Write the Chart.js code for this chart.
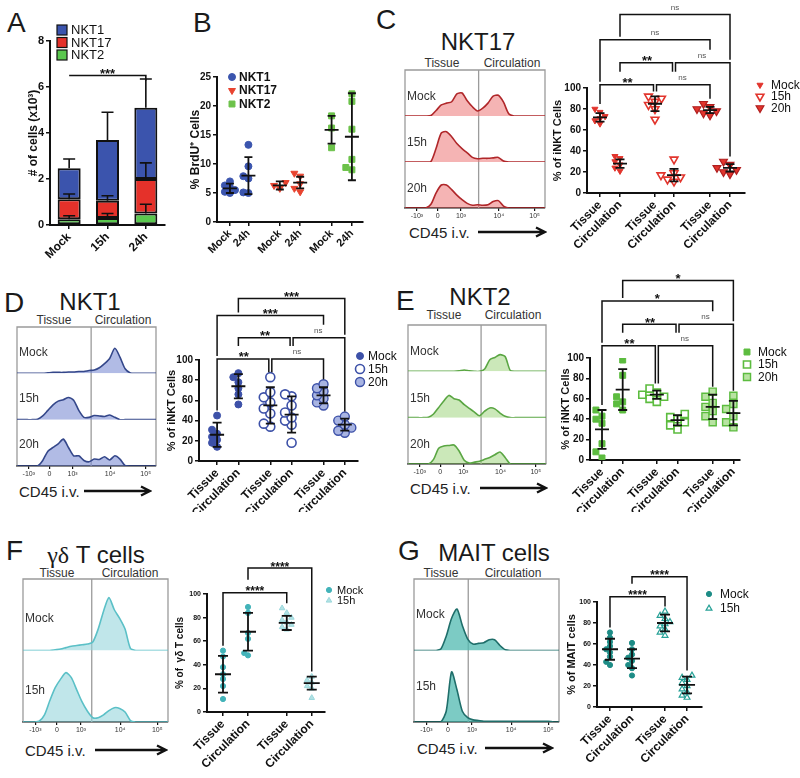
<!DOCTYPE html>
<html>
<head>
<meta charset="utf-8">
<title>Tissue vs circulation, innate-like T cells</title>
<script src="https://cdn.jsdelivr.net/npm/chart.js@4.4.1/dist/chart.umd.min.js"></script>
<style>
  html, body { margin: 0; background: #fff; }
  body { position: relative; width: 800px; height: 778px; overflow: hidden;
         font-family: 'Liberation Sans', Arial, sans-serif; color: #1a1a1a; }
  .t { position: absolute; white-space: nowrap; line-height: 1; }
  .c { transform: translateX(-50%); }
  .pl { font-size: 28px; }
  .ti { font-size: 24px; }
  .hd { font-size: 12px; color: #333; }
  .cd { font-size: 15px; color: #222; }
</style>
</head>
<body>
<div class="t pl" style="left:7px;top:9px">A</div>
<div class="t pl" style="left:193px;top:9px">B</div>
<div class="t pl" style="left:376px;top:6px">C</div>
<div class="t pl" style="left:4px;top:289px">D</div>
<div class="t pl" style="left:396px;top:287px">E</div>
<div class="t pl" style="left:6px;top:537px">F</div>
<div class="t pl" style="left:398px;top:537px">G</div>

<div class="t ti c" style="left:478px;top:30px">NKT17</div>
<div class="t ti c" style="left:90px;top:290px">NKT1</div>
<div class="t ti c" style="left:480px;top:285px">NKT2</div>
<div class="t ti c" style="left:96px;top:543px"><span style="font-family:'Liberation Serif',serif">γδ</span> T cells</div>
<div class="t ti c" style="left:494px;top:541px">MAIT cells</div>

<div class="t hd c" style="left:442px;top:57px">Tissue</div>
<div class="t hd c" style="left:512px;top:57px">Circulation</div>
<div class="t hd c" style="left:54px;top:314px">Tissue</div>
<div class="t hd c" style="left:123px;top:314px">Circulation</div>
<div class="t hd c" style="left:444px;top:309px">Tissue</div>
<div class="t hd c" style="left:513px;top:309px">Circulation</div>
<div class="t hd c" style="left:57px;top:567px">Tissue</div>
<div class="t hd c" style="left:130px;top:567px">Circulation</div>
<div class="t hd c" style="left:441px;top:567px">Tissue</div>
<div class="t hd c" style="left:513px;top:567px">Circulation</div>

<div class="t cd" style="left:409px;top:225px">CD45 i.v.</div>
<div class="t cd" style="left:19px;top:484px">CD45 i.v.</div>
<div class="t cd" style="left:410px;top:481px">CD45 i.v.</div>
<div class="t cd" style="left:25px;top:743px">CD45 i.v.</div>
<div class="t cd" style="left:417px;top:741px">CD45 i.v.</div>

<script>
// ---------- data ----------
// A: cell numbers (x10^3), stacked means and upper SD
const aGroups = ['Mock', '15h', '24h'];
const aNkt2 = [0.25, 0.3, 0.5];
const aNkt17 = [0.87, 0.75, 1.5];
const aNkt1 = [1.35, 2.65, 3.1];
const aNkt2Sd = [0.15, 0.2, 0.4];
const aNkt17Sd = [0.23, 0.22, 0.7];
const aNkt1Sd = [0.4, 1.2, 1.25];
const aSig = '***';

// B: % BrdU+ cells
const bLabels = ['Mock', '24h', 'Mock', '24h', 'Mock', '24h'];
const bNkt1Mock = [5.0, 5.2, 5.5, 6.0, 6.3, 7.0];
const bNkt1Inf = [5.0, 5.1, 7.5, 7.9, 9.6, 13.3];
const bNkt17Mock = [5.8, 6.3, 6.8];
const bNkt17Inf = [5.2, 5.8, 6.6, 7.9, 8.4];
const bNkt2Mock = [12.8, 16.2, 18.3];
const bNkt2Inf = [9.0, 9.4, 10.8, 16.0, 20.8, 22.1];
const bMean = [5.8, 8.0, 6.3, 6.8, 15.9, 14.7];
const bSd = [0.8, 3.2, 0.7, 1.0, 2.4, 7.5];

const tcLabels = ['Tissue', 'Circulation', 'Tissue', 'Circulation', 'Tissue', 'Circulation'];
const flowTicks = ['-10³', '0', '10³', '10⁴', '10⁵'];

// C: NKT17
const cHistMock = [0,0,0,0,0,1,12,24,28,31,48,50,33,20,11,17,28,43,45,30,5,0,0,0,0,0,0,0];
const cHist15 = [0,0,0,0,0,1,30,63,66,55,40,29,20,10,7,8,8,9,10,2,0,0,0,0,0,0,0,0];
const cHist20 = [0,0,0,0,0,8,33,50,50,40,28,18,10,6,7,6,7,14,16,4,0,0,0,0,0,0,0,0];
const cMockT = [66, 69, 71, 73, 77, 80];
const cMockC = [21, 24, 27, 30, 33, 35];
const c15T = [70, 80, 84, 87, 90, 92];
const c15C = [11, 13, 15, 17, 19, 32];
const c20T = [74, 76, 78, 80, 82, 85];
const c20C = [18, 20, 22, 24, 27, 30];
const cMean = [72, 28, 85, 17, 79, 24];
const cSd = [4, 4, 7, 6, 3, 3.5];
const cSig = ['**', 'ns', '**', 'ns', 'ns', 'ns'];

// D: NKT1
const dHistMock = [0,0,0,0,0,0,1,2,2,2,3,3,4,4,6,7,12,21,32,54,35,10,1,0,0,0,0,0];
const dHist15 = [0,0,0,0,1,8,20,32,40,43,48,42,20,5,5,9,8,7,10,5,0,0,0,0,0,0,0,0];
const dHist20 = [0,0,0,0,0,12,32,40,48,58,40,22,22,12,9,15,14,20,13,22,15,1,0,0,0,0,0,0];
const dMockT = [14, 18, 21, 24, 27, 31, 45];
const dMockC = [56, 66, 72, 78, 83, 87];
const d15T = [34, 37, 47, 52, 58, 63, 68, 83];
const d15C = [18, 36, 40, 43, 48, 55, 64, 66];
const d20T = [55, 58, 62, 65, 69, 72, 76];
const d20C = [28, 30, 33, 36, 40, 44];
const dMean = [26, 74, 55, 46, 65, 36];
const dSd = [12, 12, 18, 18, 8, 6];
const dSig = ['**', 'ns', '**', 'ns', '***', '***'];

// E: NKT2
const eHistMock = [0,0,0,0,0,0,0,0,0,0,1,3,1,0,0,5,25,30,36,32,2,0,0,0,0,0,0,0];
const eHist15 = [0,0,0,0,1,8,22,36,48,41,38,28,20,12,4,14,21,19,10,3,0,0,0,0,0,0,0,0];
const eHist20 = [0,0,0,0,0,10,34,39,40,41,28,8,2,4,6,10,14,20,26,14,0,0,0,0,0,0,0,0];
const eMockT = [2, 8, 16, 36, 40, 43, 49];
const eMockC = [49, 55, 57, 62, 83, 98];
const e15T = [57, 60, 62, 64, 66, 70];
const e15C = [30, 34, 37, 40, 42, 45];
const e20T = [37, 43, 48, 52, 56, 62, 67];
const e20C = [32, 37, 43, 50, 55, 63];
const eMean = [30, 69, 64, 39, 52, 46];
const eSd = [19, 20, 4, 5, 12, 12];
const eSig = ['**', 'ns', '**', 'ns', '*', '*'];

// F: gamma-delta T cells
const fLabels = ['Tissue', 'Circulation', 'Tissue', 'Circulation'];
const fHistMock = [0,0,0,0,0,0,1,2,4,6,7,8,9,12,30,55,74,57,45,30,3,0,0,0,0,0,0,0];
const fHist15 = [0,0,0,1,10,30,48,60,69,62,45,28,15,6,6,10,16,20,19,14,2,0,0,0,0,0,0,0];
const fMockT = [11, 22, 28, 32, 38, 47, 52];
const fMockC = [48, 50, 62, 67, 84, 89];
const f15T = [70, 72, 74, 76, 78, 80, 84, 88];
const f15C = [12, 20, 22, 25, 27, 30];
const fMean = [32, 68, 75.5, 24.5];
const fSd = [15.5, 16, 6, 5.5];
const fSig = ['****', '****'];

// G: MAIT cells
const gHistMock = [0,0,0,0,0,2,20,45,58,35,16,9,10,11,15,15,7,1,0,0,0,0,0,0,0,0,0,0];
const gHist15 = [0,0,0,0,0,0,15,70,45,15,6,3,2,1,1,1,1,1,1,1,1,1,1,1,1,1,0,0];
const gMockT = [40, 43, 48, 52, 55, 58, 62, 66, 71];
const gMockC = [30, 37, 40, 44, 47, 50, 55, 61];
const g15T = [68, 71, 74, 77, 79, 81, 84, 87, 91];
const g15C = [9, 11, 14, 17, 20, 23, 26, 28, 30];
const gMean = [55, 46, 80, 21];
const gSd = [10, 9, 8, 8];
const gSig = ['****', '****'];

// ---------- drawing ----------
const FONT = "'Liberation Sans', Arial, sans-serif";
const INK = '#111';
Chart.defaults.font.family = FONT;
Chart.defaults.color = INK;

const flowTickAt = [2.3, 6.3, 10.8, 18.1, 25.0];   // bin positions of the log ticks
const pairs3 = [[0, 2], [2, 4], [1, 3], [3, 5], [0, 4], [1, 5]];
const pairs2 = [[0, 2], [1, 3]];

function mount(l, t, w, h) {
  const c = document.createElement('canvas');
  c.width = w; c.height = h;
  c.style.cssText = 'position:absolute;left:' + l + 'px;top:' + t + 'px';
  document.body.appendChild(c);
  return c;
}

function arrow(x1, x2, y) {
  const w = x2 - x1;
  document.body.insertAdjacentHTML('beforeend',
    '<svg class="t" style="left:' + x1 + 'px;top:' + (y - 6) + 'px" width="' + (w + 2) + '" height="12">' +
    '<path d="M0 6H' + (w - 1) + 'M' + (w - 9) + ' 1.5L' + w + ' 6L' + (w - 9) + ' 10.5" fill="none" stroke="#111" stroke-width="2.4"/></svg>');
}
arrow(478, 545, 232);
arrow(84, 150, 491);
arrow(480, 546, 488);
arrow(95, 166, 750);
arrow(485, 552, 748);

function drawMarker(ctx, it, x, y) {
  ctx.lineWidth = it.bw;
  ctx.fillStyle = it.fill;
  ctx.strokeStyle = it.stroke;
  if (it.style === 'box') {
    ctx.fillRect(x - 5, y - 5, 10, 10);
    ctx.strokeRect(x - 5, y - 5, 10, 10);
  } else if (Chart.helpers && Chart.helpers.drawPoint) {
    Chart.helpers.drawPoint(ctx, {pointStyle: it.style, rotation: it.rot || 0, radius: it.r, borderWidth: it.bw}, x, y);
  } else {
    ctx.beginPath(); ctx.arc(x, y, it.r, 0, Math.PI * 2); ctx.fill(); ctx.stroke();
  }
}

function keyPlugin(k) {
  return {
    id: 'key',
    afterDraw(chart) {
      const ctx = chart.ctx;
      ctx.save();
      k.items.forEach((it, i) => {
        const y = k.y + i * k.step;
        drawMarker(ctx, it, k.x, y);
        ctx.fillStyle = INK;
        ctx.font = k.font;
        ctx.textBaseline = 'middle';
        ctx.fillText(it.text, k.x + k.dx, y + 0.5);
      });
      ctx.restore();
    }
  };
}

function meanSdPlugin(p) {
  return {
    id: 'meanSd',
    afterDatasetsDraw(chart) {
      const {ctx, scales: {x, y}} = chart;
      const hw = p.half || 7, cw = p.cap || 4.5;
      ctx.save();
      ctx.strokeStyle = INK;
      ctx.lineWidth = 1.8;
      p.mean.forEach((m, i) => {
        const cx = x.getPixelForValue(p.pos[i]);
        const ym = y.getPixelForValue(m);
        const y1 = y.getPixelForValue(m + p.sd[i]);
        const y0 = y.getPixelForValue(m - p.sd[i]);
        ctx.beginPath();
        ctx.moveTo(cx - hw, ym); ctx.lineTo(cx + hw, ym);
        ctx.moveTo(cx, y1); ctx.lineTo(cx, y0);
        ctx.moveTo(cx - cw, y1); ctx.lineTo(cx + cw, y1);
        ctx.moveTo(cx - cw, y0); ctx.lineTo(cx + cw, y0);
        ctx.stroke();
      });
      ctx.restore();
    }
  };
}

// significance brackets; each drop stops above the next bracket (or its label) below, else above the data
function sigPlugin(p, tops) {
  return {
    id: 'sig',
    afterDraw(chart) {
      const {ctx, scales: {x, y}} = chart;
      const px = c => x.getPixelForValue(p.pos[c]);
      ctx.save();
      const bars = p.pairs.map((pr, k) => {
        const star = p.sig[k] !== 'ns';
        ctx.font = star ? 'bold ' + p.star + 'px ' + FONT : '8px ' + FONT;
        const xa = px(pr[0]), xb = px(pr[1]);
        return {a: pr[0], b: pr[1], xa, xb, y: y.getPixelForValue(p.levels[k]), text: p.sig[k], star,
                mid: (xa + xb) / 2, half: ctx.measureText(p.sig[k]).width / 2};
      });
      const stopAt = (bar, c) => {
        const cx = px(c);
        let stop = y.getPixelForValue(tops[c]) - 5;
        bars.forEach(q => {
          if (q === bar || q.y <= bar.y + 0.5) return;
          if (cx < Math.min(q.xa, q.xb) - 0.5 || cx > Math.max(q.xa, q.xb) + 0.5) return;
          const clear = Math.abs(q.mid - cx) < q.half + 10 ? 13 : 3;
          stop = Math.min(stop, q.y - clear);
        });
        return Math.max(stop, bar.y + 4);
      };
      ctx.strokeStyle = INK;
      ctx.lineWidth = 1.5;
      ctx.textAlign = 'center';
      bars.forEach(bar => {
        const same = bars.filter(q => q !== bar && Math.abs(q.y - bar.y) < 0.5);
        const xa = bar.xa + (same.some(q => q.b === bar.a) ? 1.5 : 0);
        const xb = bar.xb - (same.some(q => q.a === bar.b) ? 1.5 : 0);
        ctx.beginPath();
        ctx.moveTo(xa, stopAt(bar, bar.a));
        ctx.lineTo(xa, bar.y);
        ctx.lineTo(xb, bar.y);
        ctx.lineTo(xb, stopAt(bar, bar.b));
        ctx.stroke();
        if (bar.star) {
          ctx.fillStyle = INK; ctx.font = 'bold ' + p.star + 'px ' + FONT;
          ctx.fillText(bar.text, bar.mid, bar.y + 2.5);
        } else {
          ctx.fillStyle = '#555'; ctx.font = '8px ' + FONT;
          ctx.fillText(bar.text, bar.mid, bar.y - 5);
        }
      });
      ctx.restore();
    }
  };
}

// spread points of one column a little sideways so markers overlap less
function swarm(vals, pxX, pxY, r) {
  const step = r * 1.45;
  const order = vals.map((v, i) => i).sort((a, b) => vals[a] - vals[b]);
  const placed = [], off = [];
  order.forEach(i => {
    off[i] = 0;
    for (const k of [0, -1, 1, -2, 2]) {
      const xo = k * step;
      const clash = placed.some(q => Math.abs(q.xo - xo) < step * 0.9 && Math.abs(q.v - vals[i]) * pxY < r * 1.5);
      if (!clash) { off[i] = xo / pxX; placed.push({xo, v: vals[i]}); break; }
    }
  });
  return off;
}

const axisGrid = {drawOnChartArea: false, tickLength: 4, color: INK, lineWidth: 1.5};
const axisBorder = {color: INK, width: 2};

function dotPlot(p) {
  const [cl, ct, cw, ch] = p.canvas;
  const [al, at, ar, ab] = p.area;
  const [xmin, xmax] = p.xr;
  const pxX = (ar - al) / (xmax - xmin), pxY = (ab - at) / p.yMax;
  const tops = [];
  const datasets = p.sets.map(s => {
    const pts = [];
    s.cols.forEach((vals, k) => {
      const c = s.at[k];
      const off = swarm(vals, pxX, pxY, s.r);
      vals.forEach((v, i) => pts.push({x: p.pos[c] + off[i], y: v}));
      tops[c] = Math.max(Math.max(...vals), p.mean[c] + p.sd[c]);
    });
    return {label: s.label, data: pts, pointStyle: s.style, pointRotation: s.rot || 0, pointRadius: s.r,
            pointBackgroundColor: s.fill, pointBorderColor: s.stroke, pointBorderWidth: s.bw};
  });
  const yLeft = p.titleX - p.titleSize * 0.6;
  const plugins = [meanSdPlugin(p),
    keyPlugin({x: p.key.x - cl, y: p.key.y - ct, step: p.key.step, dx: p.key.dx, font: p.key.font,
               items: p.sets.map(s => ({text: s.label, style: s.style, rot: s.rot, r: s.r, fill: s.fill, stroke: s.stroke, bw: s.bw}))})];
  if (p.sig) plugins.push(sigPlugin(p, tops));
  return new Chart(mount(cl, ct, cw, ch), {
    type: 'scatter',
    data: {datasets},
    options: {
      responsive: false, animation: false, events: [],
      layout: {padding: {left: yLeft - cl, top: at - ct, right: cl + cw - ar, bottom: 0}},
      scales: {
        x: {type: 'linear', min: xmin, max: xmax,
            afterBuildTicks: sc => { sc.ticks = p.pos.map(v => ({value: v})); },
            afterFit: sc => { sc.height = ct + ch - ab; },
            ticks: {autoSkip: false, minRotation: 45, maxRotation: 45, padding: 1, color: INK,
                    font: {size: p.xFont, weight: 'bold'}, callback: (v, i) => p.labels[i]},
            grid: axisGrid, border: axisBorder},
        y: {min: 0, max: p.yMax,
            afterFit: sc => { sc.width = al - yLeft; },
            ticks: {stepSize: p.yStep, padding: 2, color: INK, font: {size: p.yFont, weight: 'bold'}},
            grid: axisGrid, border: axisBorder,
            title: {display: true, text: p.yTitle, color: INK, padding: 0, font: {size: p.titleSize, weight: 'bold'}}}
      },
      plugins: {legend: {display: false}, tooltip: {enabled: false}}
    },
    plugins
  });
}

function flowFrame(p) {
  return {
    id: 'flowFrame',
    beforeDatasetsDraw(chart) {
      const {ctx, chartArea: a, scales} = chart;
      const gx = scales.x.getPixelForValue(p.gate);
      ctx.save();
      ctx.strokeStyle = '#9b9b9b';
      ctx.lineWidth = 1.3;
      ctx.beginPath();
      ctx.moveTo(a.left, a.bottom); ctx.lineTo(a.left, a.top); ctx.lineTo(a.right, a.top); ctx.lineTo(a.right, a.bottom);
      ctx.moveTo(gx, a.top); ctx.lineTo(gx, a.bottom);
      ctx.stroke();
      ctx.restore();
    },
    afterDatasetsDraw(chart) {
      const {ctx, chartArea: a} = chart;
      ctx.save();
      ctx.fillStyle = '#333';
      ctx.font = '12px ' + FONT;
      ctx.textBaseline = 'middle';
      p.rows.forEach((row, k) => {
        const s = chart.scales['r' + k];
        ctx.fillText(row[0], a.left + 2, s.top + (s.bottom - s.top) * p.labelAt);
      });
      ctx.restore();
    }
  };
}

function flowPanel(p) {
  const [l, t, r, b] = p.area;
  const cl = l - 4, ct = t - 2, cw = r - l + 8, ch = b - t + 16;
  const scales = {
    x: {type: 'linear', min: 0, max: 27,
        afterBuildTicks: sc => { sc.ticks = flowTickAt.map(v => ({value: v})); },
        afterFit: sc => { sc.height = ct + ch - b; },
        ticks: {autoSkip: false, maxRotation: 0, padding: 1, color: '#333', font: {size: 7}, callback: (v, i) => flowTicks[i]},
        grid: {drawOnChartArea: false, tickLength: 3, color: INK, lineWidth: 1.2},
        border: {color: INK, width: 1.6}}
  };
  p.rows.forEach((row, k) => {
    scales['r' + k] = {type: 'linear', position: 'right', stack: 'rows', stackWeight: 1, display: false, min: 0, max: 100};
  });
  return new Chart(mount(cl, ct, cw, ch), {
    type: 'line',
    data: {datasets: p.rows.map((row, k) => ({
      label: row[0], data: row[1].map((v, i) => ({x: i, y: v})), yAxisID: 'r' + k,
      borderColor: p.line, backgroundColor: p.fill, fill: 'origin', borderWidth: 1.6, pointRadius: 0, tension: 0.25}))},
    options: {
      responsive: false, animation: false, events: [],
      layout: {padding: {left: 4, right: 4, top: 2, bottom: 0}},
      scales,
      plugins: {legend: {display: false}, tooltip: {enabled: false}}
    },
    plugins: [flowFrame(p)]
  });
}

// ---- A: stacked bars with upper SD ----
const stackErr = {
  id: 'stackErr',
  afterDatasetsDraw(chart) {
    const {ctx, scales: {y}} = chart;
    const sds = [aNkt2Sd, aNkt17Sd, aNkt1Sd];
    const cum = aGroups.map(() => 0);
    ctx.save();
    ctx.strokeStyle = INK;
    ctx.lineWidth = 1.6;
    chart.data.datasets.forEach((ds, i) => {
      const meta = chart.getDatasetMeta(i);
      ds.data.forEach((v, j) => {
        cum[j] += v;
        const el = meta.data[j];
        const top = y.getPixelForValue(cum[j] + sds[i][j]);
        ctx.beginPath();
        ctx.moveTo(el.x, el.y); ctx.lineTo(el.x, top);
        ctx.moveTo(el.x - 6, top); ctx.lineTo(el.x + 6, top);
        ctx.stroke();
      });
    });
    const m = chart.getDatasetMeta(0).data;
    const ly = y.getPixelForValue(6.5);
    ctx.beginPath();
    ctx.moveTo(m[0].x, ly); ctx.lineTo(m[2].x, ly); ctx.lineTo(m[2].x, ly + 5);
    ctx.stroke();
    ctx.fillStyle = INK;
    ctx.font = 'bold 13px ' + FONT;
    ctx.textAlign = 'center';
    ctx.fillText(aSig, (m[0].x + m[2].x) / 2, ly + 2.5);
    ctx.restore();
  }
};

new Chart(mount(0, 15, 175, 270), {
  type: 'bar',
  data: {labels: aGroups, datasets: [
    {label: 'NKT2', data: aNkt2, backgroundColor: '#5ac84e'},
    {label: 'NKT17', data: aNkt17, backgroundColor: '#e5312a'},
    {label: 'NKT1', data: aNkt1, backgroundColor: '#3b54ad'}
  ].map(d => Object.assign(d, {borderColor: INK, borderWidth: 2, borderSkipped: false, barPercentage: 1, categoryPercentage: 0.6}))},
  options: {
    responsive: false, animation: false, events: [],
    layout: {padding: {left: 26, top: 26, right: 10, bottom: 0}},
    scales: {
      x: {stacked: true, afterFit: s => { s.height = 60; },
          ticks: {minRotation: 45, maxRotation: 45, padding: 1, color: INK, font: {size: 12, weight: 'bold'}},
          grid: Object.assign({offset: false}, axisGrid), border: axisBorder},
      y: {stacked: true, min: 0, max: 8, afterFit: s => { s.width = 24; },
          ticks: {stepSize: 2, padding: 2, color: INK, font: {size: 11, weight: 'bold'}},
          grid: axisGrid, border: axisBorder,
          title: {display: true, text: '# of cells (x10³)', padding: 0, color: INK, font: {size: 12, weight: 'bold'}}}
    },
    plugins: {legend: {display: false}, tooltip: {enabled: false}}
  },
  plugins: [stackErr, keyPlugin({x: 62, y: 15, step: 12.5, dx: 9, font: '13px ' + FONT, items: [
    {text: 'NKT1', style: 'box', fill: '#3b54ad', stroke: INK, bw: 1.2},
    {text: 'NKT17', style: 'box', fill: '#e5312a', stroke: INK, bw: 1.2},
    {text: 'NKT2', style: 'box', fill: '#5ac84e', stroke: INK, bw: 1.2}]})]
});

// ---- B ----
dotPlot({
  canvas: [185, 55, 185, 232], area: [217, 77, 363, 222], xr: [-0.7, 7.2],
  pos: [0, 1, 2.7, 3.8, 5.5, 6.6], labels: bLabels, yMax: 25, yStep: 5,
  yTitle: '% BrdU⁺ Cells', titleX: 196, titleSize: 12, yFont: 10, xFont: 11,
  mean: bMean, sd: bSd, half: 7, cap: 4,
  sets: [
    {label: 'NKT1', cols: [bNkt1Mock, bNkt1Inf], at: [0, 1], style: 'circle', r: 3.5, fill: '#3b55ae', stroke: '#3b55ae', bw: 1},
    {label: 'NKT17', cols: [bNkt17Mock, bNkt17Inf], at: [2, 3], style: 'triangle', rot: 180, r: 4, fill: '#e8432f', stroke: '#e8432f', bw: 1},
    {label: 'NKT2', cols: [bNkt2Mock, bNkt2Inf], at: [4, 5], style: 'rect', r: 4.2, fill: '#6cc24a', stroke: '#6cc24a', bw: 1}],
  key: {x: 232, y: 77, step: 13.5, dx: 7, font: 'bold 12px ' + FONT}
});

// ---- C ----
const RED = '#e2352d';
flowPanel({area: [405, 70, 545, 208], gate: 14.2, labelAt: 0.58, line: '#b0272a', fill: 'rgba(236,118,118,0.55)',
  rows: [['Mock', cHistMock], ['15h', cHist15], ['20h', cHist20]]});
dotPlot({
  canvas: [547, 0, 253, 252], area: [587, 88, 745, 193], xr: [-0.65, 7.25],
  pos: [0, 1, 2.75, 3.7, 5.5, 6.5], labels: tcLabels, yMax: 100, yStep: 20,
  yTitle: '% of iNKT Cells', titleX: 558, titleSize: 11, yFont: 10, xFont: 12,
  mean: cMean, sd: cSd, sig: cSig, pairs: pairs3, levels: [103, 103, 124, 124, 146, 170], star: 13,
  sets: [
    {label: 'Mock', cols: [cMockT, cMockC], at: [0, 1], style: 'triangle', rot: 180, r: 3.5, fill: RED, stroke: RED, bw: 1},
    {label: '15h', cols: [c15T, c15C], at: [2, 3], style: 'triangle', rot: 180, r: 4.5, fill: '#fff', stroke: RED, bw: 1.6},
    {label: '20h', cols: [c20T, c20C], at: [4, 5], style: 'triangle', rot: 180, r: 4.5, fill: RED, stroke: '#b01e1e', bw: 1.2}],
  key: {x: 760, y: 85, step: 11.5, dx: 11, font: '12px ' + FONT}
});

// ---- D ----
const BLUE = '#3d51a8';
flowPanel({area: [17, 327, 156, 466], gate: 14.4, labelAt: 0.55, line: '#34478a', fill: 'rgba(125,142,212,0.6)',
  rows: [['Mock', dHistMock], ['15h', dHist15], ['20h', dHist20]]});
dotPlot({
  canvas: [161, 280, 240, 232], area: [199, 360, 358, 461], xr: [-0.85, 6.62],
  pos: [0, 1, 2.5, 3.5, 5, 6], labels: tcLabels, yMax: 100, yStep: 20,
  yTitle: '% of iNKT Cells', titleX: 172, titleSize: 11, yFont: 10, xFont: 12,
  mean: dMean, sd: dSd, sig: dSig, pairs: pairs3, levels: [101, 101, 122, 122, 144, 161], star: 13,
  sets: [
    {label: 'Mock', cols: [dMockT, dMockC], at: [0, 1], style: 'circle', r: 3.5, fill: BLUE, stroke: BLUE, bw: 1},
    {label: '15h', cols: [d15T, d15C], at: [2, 3], style: 'circle', r: 4.5, fill: '#fff', stroke: BLUE, bw: 1.6},
    {label: '20h', cols: [d20T, d20C], at: [4, 5], style: 'circle', r: 4.5, fill: '#a8b4e2', stroke: BLUE, bw: 1.4}],
  key: {x: 360, y: 356, step: 13, dx: 8, font: '12px ' + FONT}
});

// ---- E ----
const GREEN = '#5cbc3f';
flowPanel({area: [408, 325, 546, 464], gate: 14.3, labelAt: 0.58, line: '#5aa643', fill: 'rgba(160,214,128,0.55)',
  rows: [['Mock', eHistMock], ['15h', eHist15], ['20h', eHist20]]});
dotPlot({
  canvas: [555, 270, 245, 242], area: [590, 358, 740, 460], xr: [-0.58, 6.67],
  pos: [0, 1, 2.65, 3.65, 5.35, 6.35], labels: tcLabels, yMax: 100, yStep: 20,
  yTitle: '% of iNKT Cells', titleX: 566, titleSize: 11, yFont: 10, xFont: 12,
  mean: eMean, sd: eSd, sig: eSig, pairs: pairs3, levels: [112, 112, 133, 133, 156, 176], star: 13,
  sets: [
    {label: 'Mock', cols: [eMockT, eMockC], at: [0, 1], style: 'rect', r: 4.2, fill: GREEN, stroke: GREEN, bw: 1},
    {label: '15h', cols: [e15T, e15C], at: [2, 3], style: 'rect', r: 5, fill: '#fff', stroke: GREEN, bw: 1.6},
    {label: '20h', cols: [e20T, e20C], at: [4, 5], style: 'rect', r: 5, fill: '#b8e3a2', stroke: GREEN, bw: 1.4}],
  key: {x: 747, y: 352, step: 12.5, dx: 11, font: '12px ' + FONT}
});

// ---- F ----
flowPanel({area: [23, 579, 168, 722], gate: 12.8, labelAt: 0.56, line: '#5bc0c7', fill: 'rgba(150,214,220,0.6)',
  rows: [['Mock', fHistMock], ['15h', fHist15]]});
dotPlot({
  canvas: [170, 545, 230, 233], area: [207, 594, 325, 712], xr: [-0.64, 4.08],
  pos: [0, 1, 2.55, 3.55], labels: fLabels, yMax: 100, yStep: 20,
  yTitle: '% of  γδ T cells', titleX: 180, titleSize: 10, yFont: 7, xFont: 12,
  mean: fMean, sd: fSd, sig: fSig, pairs: pairs2, levels: [101, 122], star: 12, half: 8, cap: 5,
  sets: [
    {label: 'Mock', cols: [fMockT, fMockC], at: [0, 1], style: 'circle', r: 2.6, fill: '#43b3b9', stroke: '#43b3b9', bw: 1},
    {label: '15h', cols: [f15T, f15C], at: [2, 3], style: 'triangle', r: 3.2, fill: '#b2e2e5', stroke: '#9ad7db', bw: 1}],
  key: {x: 329, y: 590, step: 10.5, dx: 8, font: '11px ' + FONT}
});

// ---- G ----
flowPanel({area: [414, 579, 559, 722], gate: 10.1, labelAt: 0.5, line: '#1f6e6a', fill: 'rgba(80,186,176,0.75)',
  rows: [['Mock', gHistMock], ['15h', gHist15]]});
dotPlot({
  canvas: [560, 545, 240, 233], area: [597, 602, 702, 707], xr: [-0.59, 4.18],
  pos: [0, 1, 2.5, 3.5], labels: fLabels, yMax: 100, yStep: 20,
  yTitle: '% of MAIT cells', titleX: 572, titleSize: 11, yFont: 7, xFont: 12,
  mean: gMean, sd: gSd, sig: gSig, pairs: pairs2, levels: [105, 124], star: 12, half: 8, cap: 5,
  sets: [
    {label: 'Mock', cols: [gMockT, gMockC], at: [0, 1], style: 'circle', r: 2.6, fill: '#1d8c86', stroke: '#1d8c86', bw: 1},
    {label: '15h', cols: [g15T, g15C], at: [2, 3], style: 'triangle', r: 3.4, fill: 'rgba(255,255,255,0)', stroke: '#27a197', bw: 1.2}],
  key: {x: 709, y: 594, step: 14.5, dx: 11, font: '12px ' + FONT}
});
</script>
</body>
</html>
